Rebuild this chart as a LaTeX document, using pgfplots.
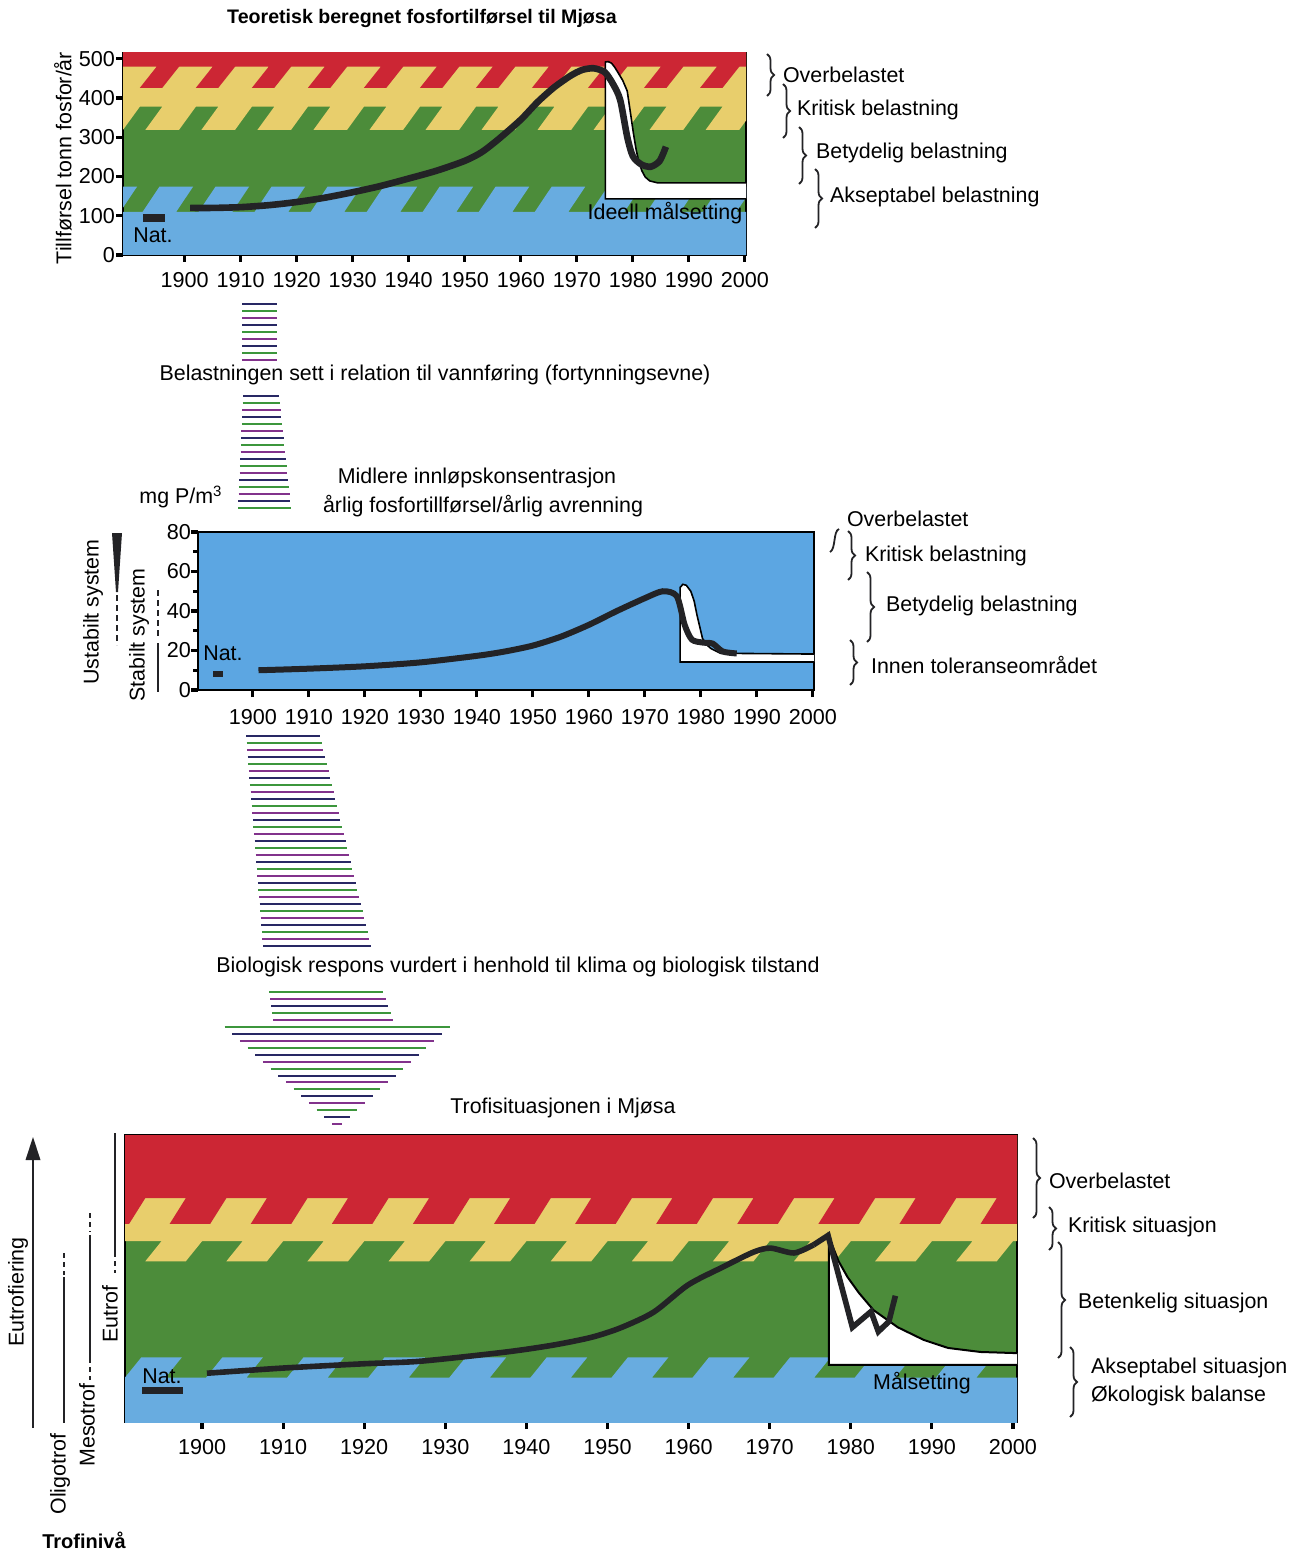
\documentclass[border=0pt]{standalone}
\usepackage{fontspec}
\setmainfont{Liberation Sans}
\usepackage{pgfplots}
\pgfplotsset{compat=1.18}
\usetikzlibrary{decorations.pathreplacing}

\definecolor{bred}{RGB}{204,38,52}
\definecolor{byel}{RGB}{232,206,108}
\definecolor{bgreen}{RGB}{76,140,58}
\definecolor{bblue}{RGB}{104,172,224}
\definecolor{mblue}{RGB}{92,166,226}
\definecolor{curve}{RGB}{35,35,38}
\definecolor{stA}{RGB}{40,40,100}
\definecolor{stB}{RGB}{60,150,60}
\definecolor{stC}{RGB}{130,50,140}

\pgfkeys{/pgf/number format/.cd,1000 sep={}}
\newcommand\labfont{\fontsize{10.7}{12.5}\selectfont}

\pgfplotsset{
  panel/.style={
    scale only axis, anchor=south west,
    axis line style={line width=1.1pt, black},
    tick style={line width=1.6pt, black},
    major tick length=3.5pt,
    minor tick length=2.5pt,
    tick align=outside,
    xtick pos=bottom, ytick pos=left,
    clip=true,
    tick label style={font=\fontsize{10.8}{12}\selectfont},
    /pgf/number format/assume math mode=true,
    xtick={1900,1910,...,2000},
  },
}

\begin{document}
\begin{tikzpicture}
\useasboundingbox (0,0) rectangle (648.5pt,-775.5pt);

% ---------------- top panel ----------------
\begin{axis}[panel, at={(61.5pt,-127.5pt)}, width=311.5pt, height=101pt,
  xmin=1889, xmax=2000.2, ymin=0, ymax=515, ytick={0,100,...,500},
  xticklabel style={yshift=-1.5pt}, yticklabel style={xshift=3pt},
  axis background/.style={fill=bgreen}]
\addplot[fill=byel, draw=none] coordinates {(1880,520)(1880,378)
(1886,378)(1883,319)(1889,319)(1892,378)
(1896,378)(1893,319)(1899,319)(1902,378)
(1906,378)(1903,319)(1909,319)(1912,378)
(1916,378)(1913,319)(1919,319)(1922,378)
(1926,378)(1923,319)(1929,319)(1932,378)
(1936,378)(1933,319)(1939,319)(1942,378)
(1946,378)(1943,319)(1949,319)(1952,378)
(1956,378)(1953,319)(1959,319)(1962,378)
(1966,378)(1963,319)(1969,319)(1972,378)
(1976,378)(1973,319)(1979,319)(1982,378)
(1986,378)(1983,319)(1989,319)(1992,378)
(1996,378)(1993,319)(1999,319)(2002,378)
(2010,378)(2010,520)};
\addplot[fill=bred, draw=none] coordinates {(1880,520)(1880,426)
(1886,426)(1889,480)(1895,480)(1892,426)
(1896,426)(1899,480)(1905,480)(1902,426)
(1906,426)(1909,480)(1915,480)(1912,426)
(1916,426)(1919,480)(1925,480)(1922,426)
(1926,426)(1929,480)(1935,480)(1932,426)
(1936,426)(1939,480)(1945,480)(1942,426)
(1946,426)(1949,480)(1955,480)(1952,426)
(1956,426)(1959,480)(1965,480)(1962,426)
(1966,426)(1969,480)(1975,480)(1972,426)
(1976,426)(1979,480)(1985,480)(1982,426)
(1986,426)(1989,480)(1995,480)(1992,426)
(1996,426)(1999,480)(2005,480)(2002,426)
(2010,426)(2010,520)};
\addplot[fill=bblue, draw=none] coordinates {(1880,-10)(1880,110)
(1882.5,110)(1885.5,174)(1891.5,174)(1888.5,110)
(1892.5,110)(1895.5,174)(1901.5,174)(1898.5,110)
(1902.5,110)(1905.5,174)(1911.5,174)(1908.5,110)
(1912.5,110)(1915.5,174)(1921.5,174)(1918.5,110)
(1922.5,110)(1925.5,174)(1931.5,174)(1928.5,110)
(1932.5,110)(1935.5,174)(1941.5,174)(1938.5,110)
(1942.5,110)(1945.5,174)(1951.5,174)(1948.5,110)
(1952.5,110)(1955.5,174)(1961.5,174)(1958.5,110)
(1962.5,110)(1965.5,174)(1971.5,174)(1968.5,110)
(1972.5,110)(1975.5,174)(1981.5,174)(1978.5,110)
(1982.5,110)(1985.5,174)(1991.5,174)(1988.5,110)
(1992.5,110)(1995.5,174)(2001.5,174)(1998.5,110)
(2010,110)(2010,-10)};
% target (white) region
\addplot[fill=white, draw=none] coordinates {(1975.1,143)(1975.1,492)(1975.6,493)(1976.2,489)(1976.8,478)(1977.4,464)(1978.2,445)(1979,418)(1979.6,360)(1980.1,311)(1980.6,268)(1981,242)(1981.6,215)(1982.2,199)(1983,189)(1984.4,184)(2000.2,184)(2000.2,143)};
\addplot[black, line width=0.8pt] coordinates {(2000.2,143)(1975.1,143)(1975.1,492)(1975.6,493)(1976.2,489)(1976.8,478)(1977.4,464)(1978.2,445)(1979,418)(1979.6,360)(1980.1,311)(1980.6,268)(1981,242)(1981.6,215)(1982.2,199)(1983,189)(1984.4,184)(2000.2,184)};
% load curve
\addplot[curve, line width=3.3pt, smooth, tension=0.45] coordinates {(1901,120)(1905,120)(1910,122)(1915,127)(1920,135)(1925,146)(1930,160)(1935,176)(1940,195)(1945,215)(1950,240)(1953,262)(1956,295)(1960,345)(1963,390)(1966,428)(1969,458)(1971,472)(1973,476)(1975,466)(1976.5,435)(1977.75,395)(1979,301)(1980,252)(1981.5,231)(1983.2,225)(1984.8,240)(1985.9,276)};
\addplot[curve, line width=4pt] coordinates {(1892.6,94)(1896.5,94)};
\end{axis}

% ---------------- middle panel ----------------
\begin{axis}[panel, at={(99pt,-345pt)}, width=308pt, height=79pt,
  xmin=1890.2, xmax=2000.2, ymin=0, ymax=80, ytick={0,20,...,80},
  minor ytick={10,30,50,70},
  yticklabel style={xshift=3.5pt},
  xticklabel style={yshift=-2.5pt},
  axis background/.style={fill=mblue}]
\addplot[fill=white, draw=none] coordinates {(1976.3,14.2)(1976.3,52)(1976.8,53.5)(1977.4,53)(1978.2,50)(1978.8,45)(1979.3,38)(1979.8,32)(1980.3,26)(1981,23)(1981.8,21)(1983.5,18.6)(2000.2,18.2)(2000.2,14.2)};
\addplot[black, line width=0.8pt] coordinates {(2000.2,14.2)(1976.3,14.2)(1976.3,52)(1976.8,53.5)(1977.4,53)(1978.2,50)(1978.8,45)(1979.3,38)(1979.8,32)(1980.3,26)(1981,23)(1981.8,21)(1983.5,18.6)(2000.2,18.2)};
\addplot[curve, line width=3pt, smooth, tension=0.45] coordinates {(1901,10)(1910,10.8)(1920,12)(1930,14)(1940,17.3)(1945,19.5)(1950,22.5)(1955,27)(1960,33)(1965,40)(1970,46.5)(1973.2,50)(1975.7,47.5)(1977.1,33)(1978.4,25.5)(1980.4,24)(1982.1,23.5)(1983.9,19.5)(1986.4,18.5)};
\addplot[curve, line width=3pt] coordinates {(1892.9,8)(1894.6,8)};
\end{axis}

% ---------------- bottom panel ----------------
\begin{axis}[panel, at={(62.5pt,-711pt)}, width=446pt, height=143.5pt,
  xmin=1890.5, xmax=2000.5, ymin=0, ymax=100, ytick=\empty,
  xticklabel style={yshift=-1.5pt},
  axis background/.style={fill=bgreen}]
\addplot[fill=byel, draw=none] coordinates {(1880,110)(1880,63)
(1885,63)(1883,56)(1888,56)(1890,63)
(1895,63)(1893,56)(1898,56)(1900,63)
(1905,63)(1903,56)(1908,56)(1910,63)
(1915,63)(1913,56)(1918,56)(1920,63)
(1925,63)(1923,56)(1928,56)(1930,63)
(1935,63)(1933,56)(1938,56)(1940,63)
(1945,63)(1943,56)(1948,56)(1950,63)
(1955,63)(1953,56)(1958,56)(1960,63)
(1965,63)(1963,56)(1968,56)(1970,63)
(1975,63)(1973,56)(1978,56)(1980,63)
(1985,63)(1983,56)(1988,56)(1990,63)
(1995,63)(1993,56)(1998,56)(2000,63)
(2010,63)(2010,110)};
\addplot[fill=bred, draw=none] coordinates {(1880,110)(1880,69)
(1881,69)(1883,78)(1888,78)(1886,69)
(1891,69)(1893,78)(1898,78)(1896,69)
(1901,69)(1903,78)(1908,78)(1906,69)
(1911,69)(1913,78)(1918,78)(1916,69)
(1921,69)(1923,78)(1928,78)(1926,69)
(1931,69)(1933,78)(1938,78)(1936,69)
(1941,69)(1943,78)(1948,78)(1946,69)
(1951,69)(1953,78)(1958,78)(1956,69)
(1961,69)(1963,78)(1968,78)(1966,69)
(1971,69)(1973,78)(1978,78)(1976,69)
(1981,69)(1983,78)(1988,78)(1986,69)
(1991,69)(1993,78)(1998,78)(1996,69)
(2001,69)(2003,78)(2008,78)(2006,69)
(2010,69)(2010,110)};
\addplot[fill=bblue, draw=none] coordinates {(1875,-5)(1875,15.5)
(1880.5,15.5)(1882.5,22.5)(1887.5,22.5)(1885.5,15.5)
(1890.5,15.5)(1892.5,22.5)(1897.5,22.5)(1895.5,15.5)
(1900.5,15.5)(1902.5,22.5)(1907.5,22.5)(1905.5,15.5)
(1910.5,15.5)(1912.5,22.5)(1917.5,22.5)(1915.5,15.5)
(1920.5,15.5)(1922.5,22.5)(1927.5,22.5)(1925.5,15.5)
(1930.5,15.5)(1932.5,22.5)(1937.5,22.5)(1935.5,15.5)
(1940.5,15.5)(1942.5,22.5)(1947.5,22.5)(1945.5,15.5)
(1950.5,15.5)(1952.5,22.5)(1957.5,22.5)(1955.5,15.5)
(1960.5,15.5)(1962.5,22.5)(1967.5,22.5)(1965.5,15.5)
(1970.5,15.5)(1972.5,22.5)(1977.5,22.5)(1975.5,15.5)
(1980.5,15.5)(1982.5,22.5)(1987.5,22.5)(1985.5,15.5)
(1990.5,15.5)(1992.5,22.5)(1997.5,22.5)(1995.5,15.5)
(2000.5,15.5)(2002.5,22.5)(2007.5,22.5)(2005.5,15.5)
(2010,15.5)(2010,-5)};
\addplot[fill=white, draw=none] coordinates {(1977.3,19.9)(1977.3,64.5)(1978.5,56)(1979.6,50.5)(1981,45)(1982.8,39)(1985.8,33)(1989,28.6)(1992,25.8)(1996,24.4)(2000.5,24)(2000.5,19.9)};
\addplot[black, line width=1pt] coordinates {(2000.5,19.9)(1977.3,19.9)(1977.3,64.5)(1978.5,56)(1979.6,50.5)(1981,45)(1982.8,39)(1985.8,33)(1989,28.6)(1992,25.8)(1996,24.4)(2000.5,24)};
\addplot[curve, line width=2.8pt, smooth, tension=0.45] coordinates {(1900.6,17)(1910,18.8)(1920,20.3)(1927,21.2)(1937.5,24.4)(1943.3,26.8)(1948,29.5)(1951.6,32.8)(1955.7,38.3)(1959.9,47.7)(1964,53.7)(1968,59.2)(1970.1,60.6)(1973,58.9)(1975.4,61.7)};
\addplot[curve, line width=2.8pt, line join=miter] coordinates {(1975.4,61.7)(1977.2,65)(1980.2,33)(1982.5,38.5)(1983.4,31.5)(1984.7,35)(1985.5,44)};
\addplot[curve, line width=3.2pt] coordinates {(1892.6,11)(1897.6,11)};
\end{axis}

% ---------------- annotations (pixel coordinates) ----------------
\begin{scope}[x=0.5pt,y=-0.5pt]
\node[font=\bfseries\fontsize{9.8}{12}\selectfont] at (422,18) {Teoretisk beregnet fosfortilførsel til Mjøsa};
\node[rotate=90, font=\labfont] at (63,158) {Tillførsel tonn fosfor/år};
\node[font=\labfont] at (153,235) {Nat.};
\node[font=\labfont] at (665,213) {Ideell målsetting};

\tikzset{br/.style={decorate, decoration={brace, amplitude=3.5pt}, line width=0.9pt, curve}}
\draw[br] (767,54) -- (767,96);
\draw[br] (783,84) -- (783,138);
\draw[br] (799,127) -- (799,184);
\draw[br] (815,169) -- (815,228);
\node[font=\labfont, anchor=west] at (776,75) {Overbelastet};
\node[font=\labfont, anchor=west] at (790,110) {Kritisk belastning};
\node[font=\labfont, anchor=west] at (809,153) {Betydelig belastning};
\node[font=\labfont, anchor=west] at (823,197) {Akseptabel belastning};

% stripes
\foreach \i in {0,...,8} {
  \pgfmathtruncatemacro\m{mod(\i,3)}
  \ifcase\m\def\col{stA}\or\def\col{stB}\else\def\col{stC}\fi
  \pgfmathsetmacro\yy{304+7*\i}
  \draw[\col, line width=1pt] (242,\yy) -- (277,\yy);
}
\node[font=\labfont] at (435,375) {Belastningen sett i relation til vannføring (fortynningsevne)};
\foreach \i in {0,...,16} {
  \pgfmathtruncatemacro\m{mod(\i,3)}
  \ifcase\m\def\col{stA}\or\def\col{stB}\else\def\col{stC}\fi
  \pgfmathsetmacro\yy{396+7*\i}
  \pgfmathsetmacro\xl{243-5*\i/16}
  \pgfmathsetmacro\xr{279+12*\i/16}
  \draw[\col, line width=1pt] (\xl,\yy) -- (\xr,\yy);
}
\node[font=\labfont] at (181,497) {mg P/m\textsuperscript{3}};
\node[font=\labfont] at (477,478) {Midlere innløpskonsentrasjon};
\node[font=\labfont] at (483,506) {årlig fosfortillførsel/årlig avrenning};

% middle left
\node[rotate=90, font=\labfont] at (93,612) {Ustabilt system};
\fill[curve] (112,533) -- (122,533) -- (118,592) -- (116,592) -- cycle;
\draw[curve, line width=1.3pt, dash pattern=on 3pt off 2pt] (117,595) -- (117,645);
\node[rotate=90, font=\labfont] at (139,635) {Stabilt system};
\draw[curve, line width=1.2pt, dash pattern=on 3pt off 2pt] (158,590) -- (158,637);
\draw[curve, line width=1.2pt] (158,643) -- (158,692);
\node[font=\labfont] at (223,653) {Nat.};

% middle right
\node[font=\labfont, anchor=west] at (840,519) {Overbelastet};
\draw[curve, line width=0.9pt] (839,529) .. controls (833,531) and (836,549) .. (830,552);
\draw[br] (848,531) -- (848,580);
\draw[br] (867,572) -- (867,642);
\draw[br] (850,640) -- (850,685);
\node[font=\labfont, anchor=west] at (858,556) {Kritisk belastning};
\node[font=\labfont, anchor=west] at (879,606) {Betydelig belastning};
\node[font=\labfont, anchor=west] at (864,665) {Innen toleranseområdet};

% funnel stripes
\foreach \i in {0,...,30} {
  \pgfmathtruncatemacro\m{mod(\i,3)}
  \ifcase\m\def\col{stA}\or\def\col{stB}\else\def\col{stC}\fi
  \pgfmathsetmacro\yy{736+7*\i}
  \pgfmathsetmacro\xl{246+17*\i/30}
  \pgfmathsetmacro\xr{320+51*\i/30}
  \draw[\col, line width=1pt] (\xl,\yy) -- (\xr,\yy);
}
\node[font=\labfont] at (518,967) {Biologisk respons vurdert i henhold til klima og biologisk tilstand};
\foreach \i in {0,...,4} {
  \pgfmathtruncatemacro\m{mod(\i,3)}
  \ifcase\m\def\col{stB}\or\def\col{stC}\else\def\col{stA}\fi
  \pgfmathsetmacro\yy{992+7*\i}
  \pgfmathsetmacro\xl{269+\i}
  \pgfmathsetmacro\xr{383+2.5*\i}
  \draw[\col, line width=1pt] (\xl,\yy) -- (\xr,\yy);
}
\foreach \i in {0,...,14} {
  \pgfmathtruncatemacro\m{mod(\i,3)}
  \ifcase\m\def\col{stB}\or\def\col{stA}\else\def\col{stC}\fi
  \pgfmathsetmacro\yy{1027+6.93*\i}
  \pgfmathsetmacro\hw{112.5-107.5*\i/14}
  \draw[\col, line width=1pt] (337-\hw,\yy) -- (337+\hw,\yy);
}
\node[font=\labfont] at (563,1108) {Trofisituasjonen i Mjøsa};

% bottom inside
\node[font=\labfont] at (162,1376) {Nat.};
\node[font=\labfont] at (922,1383) {Målsetting};

% bottom right
\draw[br] (1033,1138) -- (1033,1218);
\draw[br] (1049,1207) -- (1049,1250);
\draw[br] (1058,1242) -- (1058,1358);
\draw[br] (1070,1347) -- (1070,1417);
\node[font=\labfont, anchor=west] at (1042,1181) {Overbelastet};
\node[font=\labfont, anchor=west] at (1061,1227) {Kritisk situasjon};
\node[font=\labfont, anchor=west] at (1071,1303) {Betenkelig situasjon};
\node[font=\labfont, anchor=west] at (1084,1368) {Akseptabel situasjon};
\node[font=\labfont, anchor=west] at (1084,1396) {Økologisk balanse};

% bottom left
\draw[curve, line width=1.3pt] (33,1428) -- (33,1158);
\fill[curve] (25.5,1160) -- (40.5,1160) -- (33,1137) -- cycle;
\node[rotate=90, font=\labfont] at (18,1292) {Eutrofiering};
\draw[curve, line width=1.3pt] (64,1277) -- (64,1423);
\draw[curve, line width=1.3pt, dash pattern=on 2.5pt off 2pt] (64,1253) -- (64,1275);
\node[rotate=90, font=\labfont] at (60,1474) {Oligotrof};
\draw[curve, line width=1.3pt] (90,1235) -- (90,1363);
\draw[curve, line width=1.3pt, dash pattern=on 2.5pt off 2pt] (90,1213) -- (90,1232);
\draw[curve, line width=1.3pt, dash pattern=on 2.5pt off 2pt] (90,1367) -- (90,1380);
\node[rotate=90, font=\labfont] at (87,1425) {Mesotrof};
\draw[curve, line width=1.3pt] (115,1133) -- (115,1257);
\draw[curve, line width=1.3pt, dash pattern=on 2.5pt off 2pt] (115,1261) -- (115,1273);
\node[rotate=90, font=\labfont] at (110,1314) {Eutrof};
\node[font=\bfseries\fontsize{10}{12}\selectfont] at (84,1540) {Trofinivå};
\end{scope}
\end{tikzpicture}
\end{document}
